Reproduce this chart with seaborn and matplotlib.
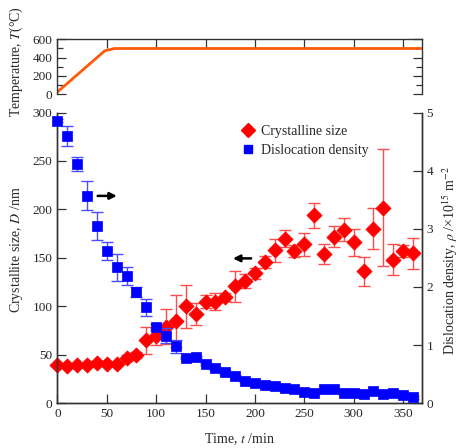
import numpy as np
import pandas as pd
import seaborn as sns
import matplotlib.pyplot as plt
from matplotlib.lines import Line2D
from matplotlib.ticker import MultipleLocator

# --- data ---
temp_time = [0, 48, 58, 370]
temp_value = [25, 475, 500, 500]

time = [0, 10, 20, 30, 40, 50, 60, 70, 80, 90, 100, 110, 120, 130, 140, 150, 160, 170, 180,
        190, 200, 210, 220, 230, 240, 250, 260, 270, 280, 290, 300, 310, 320, 330, 340, 350, 360]

cryst_size = [39, 38, 39, 39, 42, 41, 41, 47, 50, 65, 69, 79, 85, 100, 92, 105, 105, 110, 121,
              126, 134, 146, 158, 170, 157, 164, 194, 154, 172, 179, 166, 136, 180, 202, 148, 157, 155]
cryst_err = [2, 2, 2, 2, 2, 2, 2, 3, 3, 14, 9, 18, 27, 22, 11, 7, 9, 4, 16,
             7, 6, 6, 12, 9, 6, 12, 13, 10, 11, 12, 14, 15, 21, 60, 16, 6, 16]

disl_density = [4.86, 4.59, 4.11, 3.57, 3.05, 2.62, 2.34, 2.19, 1.91, 1.65, 1.31, 1.16, 0.98,
                0.78, 0.80, 0.67, 0.60, 0.53, 0.47, 0.38, 0.35, 0.31, 0.30, 0.27, 0.245, 0.19,
                0.18, 0.245, 0.24, 0.18, 0.17, 0.16, 0.21, 0.16, 0.17, 0.14, 0.10]
disl_err = [0.03, 0.17, 0.12, 0.25, 0.24, 0.15, 0.23, 0.15, 0.09, 0.15, 0.05, 0.13, 0.11,
            0.02, 0.02, 0.02, 0.02, 0.02, 0.02, 0.02, 0.02, 0.02, 0.02, 0.02, 0.02, 0.02,
            0.02, 0.02, 0.02, 0.02, 0.02, 0.02, 0.02, 0.02, 0.02, 0.02, 0.02]

df_temp = pd.DataFrame({"time": temp_time, "temp": temp_value})
df = pd.DataFrame({"time": time, "size": cryst_size, "size_err": cryst_err,
                   "rho": disl_density, "rho_err": disl_err})

sns.set_style("ticks")
plt.rcParams["font.family"] = ["Liberation Serif", "DejaVu Serif"]
plt.rcParams["mathtext.fontset"] = "stix"
plt.rcParams["font.size"] = 9.5
plt.rcParams["axes.edgecolor"] = "#333333"
plt.rcParams["axes.linewidth"] = 1.0

fig = plt.figure(figsize=(4.59, 4.48), dpi=100)
ax_t = fig.add_axes([0.125, 0.7895, 0.794, 0.1227])
ax = fig.add_axes([0.125, 0.0998, 0.794, 0.649])
ax2 = ax.twinx()

tick_kw = dict(direction="in", length=6.5, width=0.9, color="#333333", labelsize=9.5)
lab_fs = 10

# temperature panel
sns.lineplot(data=df_temp, x="time", y="temp", ax=ax_t, color="#ff5a0a", lw=2)
ax_t.set_xlim(0, 369)
ax_t.set_ylim(0, 600)
ax_t.set_xticks(np.arange(0, 351, 50))
ax_t.set_yticks([0, 200, 400, 600])
ax_t.yaxis.set_minor_locator(MultipleLocator(100))
ax_t.tick_params(axis="x", which="both", top=True, bottom=False, labelbottom=False, **tick_kw)
ax_t.tick_params(axis="y", which="major", left=True, right=True, **tick_kw)
ax_t.tick_params(axis="y", which="minor", left=True, right=True, direction="in",
                 length=4.5, width=0.9, color="#333333")
ax_t.spines["bottom"].set_visible(False)
ax_t.set_xlabel("")
ax_t.set_ylabel("Temperature, $T$(°C)", fontsize=lab_fs)
ax_t.yaxis.set_label_coords(-0.09, 0.6)

# crystalline size (left axis)
ax.errorbar(df["time"], df["size"], yerr=df["size_err"], fmt="none",
            ecolor="#ff4d4d", elinewidth=1.0, capsize=4, capthick=1.0, zorder=2)
sns.scatterplot(data=df, x="time", y="size", ax=ax, marker="D", s=60, color="#ff0000",
                edgecolor="#ff0000", linewidth=0.5, zorder=3, clip_on=False)

# dislocation density (right axis)
ax2.errorbar(df["time"], df["rho"], yerr=df["rho_err"], fmt="none",
             ecolor="#4d4dff", elinewidth=1.0, capsize=4, capthick=1.0, zorder=2)
sns.scatterplot(data=df, x="time", y="rho", ax=ax2, marker="s", s=50, color="#0000ff",
                edgecolor="#0000ff", linewidth=0.5, zorder=3, clip_on=False)

ax.set_xlim(0, 369)
ax.set_ylim(0, 300)
ax2.set_ylim(0, 5)
ax.set_xticks(np.arange(0, 351, 50))
ax.set_yticks(np.arange(0, 301, 50))
ax2.set_yticks(np.arange(0, 6, 1))
ax.tick_params(axis="x", bottom=True, top=False, **tick_kw)
ax.tick_params(axis="y", left=True, right=False, **tick_kw)
ax2.tick_params(axis="y", right=True, **tick_kw)
for a in (ax, ax2):
    a.spines["top"].set_visible(False)

ax.set_xlabel("Time, $t$ /min", fontsize=lab_fs)
ax.set_ylabel("Crystallite size, $D$ /nm", fontsize=lab_fs)
ax2.set_ylabel("Dislocation density, $\\rho$ /×10$^{15}$ m$^{-2}$", fontsize=lab_fs)
ax.yaxis.set_label_coords(-0.09, 0.53)
ax2.yaxis.set_label_coords(1.05, 0.49)
ax.xaxis.set_label_coords(0.5, -0.095)

# arrows pointing to the relevant axis
ax.annotate("", xy=(63, 214), xytext=(38, 214),
            arrowprops=dict(arrowstyle="-|>", color="black", lw=1.8, mutation_scale=10))
ax.annotate("", xy=(175, 149.5), xytext=(199, 149.5),
            arrowprops=dict(arrowstyle="-|>", color="black", lw=1.8, mutation_scale=10))

handles = [Line2D([], [], marker="D", ls="none", color="#ff0000", ms=7),
           Line2D([], [], marker="s", ls="none", color="#0000ff", ms=6)]
ax.legend(handles, ["Crystalline size", "Dislocation density"], loc="upper left",
          bbox_to_anchor=(0.47, 1.0), frameon=False, handlelength=1.0,
          handletextpad=0.4, labelspacing=0.45, fontsize=lab_fs)

fig.savefig("out.png", dpi=100)
